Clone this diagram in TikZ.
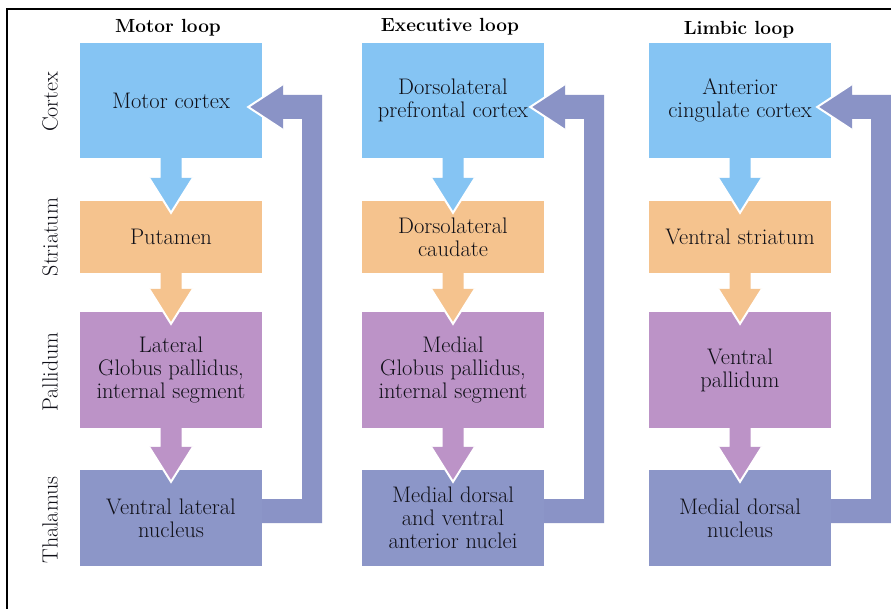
\documentclass[tikz,border=0pt]{standalone}
\usetikzlibrary{calc}
\definecolor{cortexc}{HTML}{85C4F3}
\definecolor{striac}{HTML}{F5C38E}
\definecolor{pallc}{HTML}{BC93C7}
\definecolor{thalc}{HTML}{8C96C8}
\definecolor{fbc}{HTML}{8A93C6}
\definecolor{txtc}{HTML}{101018}
\tikzset{
  region/.style={draw=none, inner sep=0pt, align=center, text=txtc,
    font=\fontsize{22.5}{23}\selectfont, minimum width=182pt},
  cortexbox/.style={region, fill=cortexc, minimum height=115pt},
  striabox/.style={region, fill=striac, minimum height=72pt},
  pallbox/.style={region, fill=pallc, minimum height=116pt},
  thalbox/.style={region, fill=thalc, minimum height=96pt},
  looptitle/.style={anchor=base, text=black, font=\fontsize{19}{22}\selectfont\bfseries},
  rowlabel/.style={rotate=90, text=txtc, font=\fontsize{22}{24}\selectfont},
  frameline/.style={black, line width=1.2pt}
}
\newcommand{\blockdown}[3]{%
  \fill[#3] ($(#1.south)+(-10.5,0)$) -- ($(#2.north)+(-10.5,-23)$) -- ($(#2.north)+(-22,-23)$)
    -- ($(#2.north)+(0,12)$) -- ($(#2.north)+(22,-23)$) -- ($(#2.north)+(10.5,-23)$)
    -- ($(#1.south)+(10.5,0)$) -- cycle;
  \draw[white, line width=2pt] ($(#2.north)+(-22,-23)$) -- ($(#2.north)+(0,12)$) -- ($(#2.north)+(22,-23)$);
}
\newcommand{\fbarrow}[2]{%
  \fill[fbc] ($(#1.east)+(0,5)$) -- ($(#1.east)+(60,5)$) -- ($(#2.east)+(60,-5.5)$)
    -- ($(#2.east)+(21,-5.5)$) -- ($(#2.east)+(21,-16.5)$) -- ($(#2.east)+(-14,6.5)$)
    -- ($(#2.east)+(21,29.5)$) -- ($(#2.east)+(21,18.5)$) -- ($(#2.east)+(40,18.5)$)
    -- ($(#1.east)+(40,-19)$) -- ($(#1.east)+(0,-19)$) -- cycle;
  \draw[white, line width=2pt] ($(#2.east)+(21,-16.5)$) -- ($(#2.east)+(-14,6.5)$) -- ($(#2.east)+(21,29.5)$);
}
\begin{document}
\begin{tikzpicture}[x=1pt, y=-1pt]
\useasboundingbox (0,0) rectangle (891,609);
\fill[white] (0,0) rectangle (891,609);
% frame
\coordinate (fb) at (7,609);
\coordinate (fc) at (7,9);
\coordinate (fr) at (891,9);
\draw[frameline] (fb) -- (fc) -- (fr);

% titles
\node[looptitle] (t-motor) at (168,32.5) {Motor loop};
\node[looptitle] (t-exec) at (450,31.5) {Executive loop};
\node[looptitle] (t-limb) at (739,34.5) {Limbic loop};

% row labels
\node[rowlabel] (r-cortex) at (50,102) {Cortex};
\node[rowlabel] (r-stria) at (50,237) {Striatum};
\node[rowlabel] (r-pall) at (50,372) {Pallidum};
\node[rowlabel] (r-thal) at (50,520) {Thalamus};

% column 1
\node[cortexbox] (c1) at (171,100.5) {Motor cortex};
\node[striabox] (s1) at (171,237) {Putamen};
\node[pallbox] (p1) at (171,370) {Lateral\\Globus pallidus,\\internal segment};
\node[thalbox] (h1) at (171,518) {Ventral lateral\\nucleus};

% column 2
\node[cortexbox] (c2) at (453,100.5) {Dorsolateral\\prefrontal cortex};
\node[striabox] (s2) at (453,237) {Dorsolateral\\caudate};
\node[pallbox] (p2) at (453,370) {Medial\\Globus pallidus,\\internal segment};
\node[thalbox] (h2) at (453,518) {Medial dorsal\\and ventral\\anterior nuclei};

% column 3
\node[cortexbox] (c3) at (740,100.5) {Anterior\\cingulate cortex};
\node[striabox] (s3) at (740,237) {Ventral striatum};
\node[pallbox] (p3) at (740,370) {Ventral\\pallidum};
\node[thalbox] (h3) at (740,518) {Medial dorsal\\nucleus};

% down arrows
\blockdown{c1}{s1}{cortexc}
\blockdown{s1}{p1}{striac}
\blockdown{p1}{h1}{pallc}
\blockdown{c2}{s2}{cortexc}
\blockdown{s2}{p2}{striac}
\blockdown{p2}{h2}{pallc}
\blockdown{c3}{s3}{cortexc}
\blockdown{s3}{p3}{striac}
\blockdown{p3}{h3}{pallc}

% feedback arrows
\fbarrow{h1}{c1}
\fbarrow{h2}{c2}
\fbarrow{h3}{c3}
\end{tikzpicture}
\end{document}
